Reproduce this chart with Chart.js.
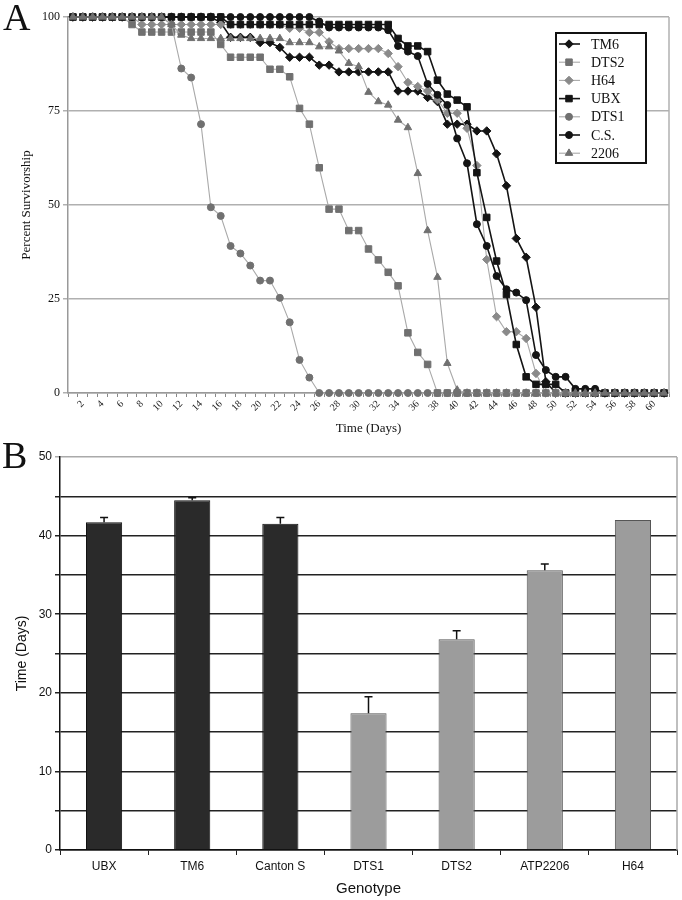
<!DOCTYPE html>
<html><head><meta charset="utf-8">
<script src="https://cdn.jsdelivr.net/npm/chart.js@4.4.1/dist/chart.umd.min.js"></script>
<style>
html,body{margin:0;padding:0;background:#fff;}
#wrap{position:relative;width:682px;height:900px;overflow:hidden;}
#ca{position:absolute;left:0;top:0;}
#cb{position:absolute;left:0;top:440px;}
.panel{position:absolute;font-family:"Liberation Serif","Times New Roman",serif;font-size:38px;line-height:1;color:#111;}
</style></head>
<body><div id="wrap">
<canvas id="ca" width="682" height="440"></canvas>
<canvas id="cb" width="682" height="460"></canvas>
<div class="panel" style="left:3px;top:-2px;">A</div>
<div class="panel" style="left:2px;top:436px;">B</div>
</div>
<script>
// ---------- Panel A data ----------
const days = ['1','2','3','4','5','6','7','8','9','10','11','12','13','14','15','16','17','18','19','20',
  '21','22','23','24','25','26','27','28','29','30','31','32','33','34','35','36','37','38','39','40',
  '41','42','43','44','45','46','47','48','49','50','51','52','53','54','55','56','57','58','59','60','61'];
const seriesNames = ['TM6','DTS2','H64','UBX','DTS1','C.S.','2206'];
const TM6 = [100,100,100,100,100,100,100,100,100,100,100,100,100,100,100,98.5,94.6,94.6,94.6,93.2,
  93.2,91.9,89.3,89.3,89.3,87.2,87.2,85.4,85.4,85.4,85.4,85.4,85.4,80.3,80.3,80.3,78.6,77.5,71.5,71.5,
  71.5,69.7,69.7,63.6,55.1,41.1,36.1,22.8,3.0,0,0,0,0,0,0,0,0,0,0,0,0];
const DTS2 = [100,100,100,100,100,100,98,96,96,96,96,96,96,96,96,92.7,89.3,89.3,89.3,89.3,
  86.1,86.1,84.1,75.7,71.5,59.9,48.9,48.9,43.2,43.2,38.3,35.4,32.1,28.5,16.0,10.8,7.6,0,0,0,
  0,0,0,0,0,0,0,0,0,0,0,0,0,0,0,0,0,0,0,0,0];
const H64 = [100,100,100,100,100,100,100,98,98,98,98,98,98,98,98,98,98,98,98,98,
  98,98,97,97,95.9,95.9,93.4,91.6,91.6,91.6,91.6,91.6,90.3,86.8,82.6,81.5,80.3,78.0,74.4,74.4,
  70.4,60.5,35.5,20.3,16.3,16.3,14.5,5.2,0,0,0,0,0,0,0,0,0,0,0,0,0];
const UBX = [100,100,100,100,100,100,100,100,100,100,100,100,100,100,100,100,98,98,98,98,
  98,98,98,98,98,98,98,98,98,98,98,98,98,94.3,92.3,92.3,90.8,83.2,79.5,77.9,
  76.1,58.6,46.7,35.1,26.2,12.9,4.3,2.3,2.3,2.3,0,0,0,0,0,0,0,0,0,0,0];
const DTS1 = [100,100,100,100,100,100,100,100,100,100,98,86.3,83.9,71.5,49.4,47.1,39.1,37.1,33.9,29.9,
  29.9,25.3,18.8,8.8,4.1,0,0,0,0,0,0,0,0,0,0,0,0,0,0,0,
  0,0,0,0,0,0,0,0,0,0,0,0,0,0,0,0,0,0,0,0,0];
const CS = [100,100,100,100,100,100,100,100,100,100,100,100,100,100,100,100,100,100,100,100,
  100,100,100,100,100,98.8,97.2,97.2,97.2,97.2,97.2,97.2,96.5,92.3,90.8,89.6,82.2,79.3,76.6,67.7,
  61.1,44.9,39.1,31.1,27.6,26.7,24.7,10.1,6.1,4.3,4.3,1.1,1.1,1.1,0,0,0,0,0,0,0];
const S2206 = [100,100,100,100,100,100,100,100,100,100,98,95.2,94.3,94.3,94.3,94.3,94.3,94.3,94.3,94.3,
  94.3,94.3,93.2,93.2,93.2,92.1,92.1,91.0,87.7,86.8,80.0,77.5,76.6,72.6,70.6,58.4,43.2,30.8,7.9,0.8,
  0,0,0,0,0,0,0,0,0,0,0,0,0,0,0,0,0,0,0,0,0];
const survivalTicks = [0,25,50,75,100];

// ---------- Panel B data ----------
const genotypes = ['UBX','TM6','Canton S','DTS1','DTS2','ATP2206','H64'];
const meanDays = [41.7,44.5,41.5,17.4,26.8,35.6,42.0];
const errPlus = [0.6,0.3,0.8,2.1,1.1,0.8,0];

// ---------- styles ----------
const SERIF = '"Liberation Serif","Times New Roman",serif';
const SANS = '"Liberation Sans",Arial,sans-serif';
const BLACK = '#141414', GREYM = '#707070', GREYL = '#a9a9a9';
const styleA = [
  {mark:BLACK, line:BLACK, lw:1.6, ps:'rectRot', r:4.2},
  {mark:GREYM, line:GREYL, lw:1.1, ps:'rect', r:4.6},
  {mark:'#8a8a8a', line:GREYL, lw:1.1, ps:'rectRot', r:4.2},
  {mark:BLACK, line:BLACK, lw:1.6, ps:'rect', r:4.6},
  {mark:GREYM, line:GREYL, lw:1.1, ps:'circle', r:3.5},
  {mark:BLACK, line:BLACK, lw:1.6, ps:'circle', r:3.5},
  {mark:GREYM, line:GREYL, lw:1.1, ps:'triangle', r:4.3}
];
const seriesData = [TM6, DTS2, H64, UBX, DTS1, CS, S2206];

const rightBorder = {
  id:'rightBorder',
  afterDraw(chart, args, opts){
    const a = chart.chartArea, ctx = chart.ctx;
    ctx.save(); ctx.strokeStyle = opts.color || '#aaa'; ctx.lineWidth = 1.5;
    ctx.beginPath(); ctx.moveTo(a.right, a.top); ctx.lineTo(a.right, a.bottom); ctx.stroke();
    ctx.restore();
  }
};

const boxLegend = {
  id:'boxLegend',
  afterDraw(chart){
    const ctx = chart.ctx;
    const x0 = 556, y0 = 33, w = 90, h = 130;
    ctx.save();
    ctx.fillStyle = '#fff'; ctx.fillRect(x0, y0, w, h);
    ctx.strokeStyle = '#111'; ctx.lineWidth = 2; ctx.strokeRect(x0, y0, w, h);
    ctx.font = '14px ' + SERIF; ctx.textBaseline = 'middle'; ctx.textAlign = 'left';
    chart.data.datasets.forEach((ds, i) => {
      const y = y0 + 11 + i * 18.2;
      ctx.strokeStyle = ds.borderColor; ctx.lineWidth = ds.borderWidth;
      ctx.beginPath(); ctx.moveTo(x0 + 3, y); ctx.lineTo(x0 + 24, y); ctx.stroke();
      ctx.fillStyle = ds.pointBackgroundColor; ctx.strokeStyle = ds.pointBorderColor; ctx.lineWidth = 1;
      Chart.helpers.drawPoint(ctx, {pointStyle: ds.pointStyle, radius: ds.pointRadius, rotation: 0, borderWidth: 1}, x0 + 13, y);
      ctx.fillStyle = '#111';
      ctx.fillText(ds.label, x0 + 35, y + 1);
    });
    ctx.restore();
  }
};

const datasetsA = seriesNames.map((name, i) => ({
  label: name,
  data: seriesData[i],
  borderColor: styleA[i].line,
  borderWidth: styleA[i].lw,
  pointStyle: styleA[i].ps,
  pointRadius: styleA[i].r,
  pointBackgroundColor: styleA[i].mark,
  pointBorderColor: styleA[i].mark,
  pointBorderWidth: 1,
  tension: 0,
  clip: false,
  order: seriesNames.length - i
}));

new Chart(document.getElementById('ca'), {
  type: 'line',
  data: { labels: days, datasets: datasetsA },
  options: {
    responsive: false, animation: false,
    layout: { padding: { left: 15, right: 13, top: 17, bottom: 0 } },
    plugins: { legend: { display: false }, tooltip: { enabled: false }, rightBorder: { color: '#b0b0b0' } },
    scales: {
      x: {
        type: 'category', offset: true,
        grid: { display: true, drawOnChartArea: false, offset: true, tickLength: 4, color: '#888', lineWidth: 1 },
        border: { color: '#999', width: 1.5 },
        ticks: { autoSkip: false, minRotation: 45, maxRotation: 45, padding: 1, color: '#222',
          font: { family: SERIF, size: 10 },
          callback: (v, i) => (i % 2 === 1 ? days[i] : '') },
        title: { display: true, text: 'Time (Days)', color: '#111', font: { family: SERIF, size: 13 }, padding: { top: 2, bottom: 4 } },
        afterFit: s => { s.height = 47; }
      },
      y: {
        min: 0, max: 100,
        afterBuildTicks: s => { s.ticks = survivalTicks.map(v => ({ value: v })); },
        grid: { color: '#b0b0b0', lineWidth: 1.5, tickLength: 5 },
        border: { color: '#999', width: 1.5 },
        ticks: { color: '#111', padding: 3, font: { family: SERIF, size: 12 } },
        title: { display: true, text: 'Percent Survivorship', color: '#111', font: { family: SERIF, size: 13 }, padding: 4 },
        afterFit: s => { s.width = 53; }
      }
    }
  },
  plugins: [rightBorder, boxLegend]
});

// ---------- Panel B ----------
const barFill = ['#2a2a2a','#2a2a2a','#2a2a2a','#9c9c9c','#9c9c9c','#9c9c9c','#9c9c9c'];
const barEdge = ['#111','#111','#111','#555','#555','#555','#555'];

const errorBars = {
  id: 'errorBars',
  afterDatasetsDraw(chart){
    const meta = chart.getDatasetMeta(0), ys = chart.scales.y, ctx = chart.ctx;
    ctx.save(); ctx.strokeStyle = '#111'; ctx.lineWidth = 1.5;
    meta.data.forEach((bar, i) => {
      if (!errPlus[i]) return;
      const yb = ys.getPixelForValue(meanDays[i]);
      const yt = ys.getPixelForValue(meanDays[i] + errPlus[i]);
      ctx.beginPath();
      ctx.moveTo(bar.x, yb); ctx.lineTo(bar.x, yt);
      ctx.moveTo(bar.x - 4, yt); ctx.lineTo(bar.x + 4, yt);
      ctx.stroke();
    });
    ctx.restore();
  }
};

new Chart(document.getElementById('cb'), {
  type: 'bar',
  data: { labels: genotypes, datasets: [{
    data: meanDays, backgroundColor: barFill, borderColor: barEdge, borderWidth: 1,
    barPercentage: 0.41, categoryPercentage: 1
  }]},
  options: {
    responsive: false, animation: false,
    layout: { padding: { left: 10, right: 5, top: 17, bottom: 0 } },
    plugins: { legend: { display: false }, tooltip: { enabled: false }, rightBorder: { color: '#aaa' } },
    scales: {
      x: {
        grid: { display: true, drawOnChartArea: false, offset: true, tickLength: 5, color: '#222', lineWidth: 1 },
        border: { color: '#111', width: 1.5 },
        ticks: { color: '#111', padding: 4, font: { family: SANS, size: 12 } },
        title: { display: true, text: 'Genotype', color: '#111', font: { family: SANS, size: 15 }, padding: { top: 2, bottom: 2 } },
        afterFit: s => { s.height = 50; }
      },
      y: {
        min: 0, max: 50,
        ticks: { stepSize: 5, color: '#111', padding: 3, font: { family: SANS, size: 12 },
          callback: v => (v % 10 === 0 ? v : '') },
        grid: { color: c => (c.tick && c.tick.value === 50 ? '#aaa' : '#222'), lineWidth: 1.5, tickLength: 5 },
        border: { color: '#111', width: 1.5 },
        title: { display: true, text: 'Time (Days)', color: '#111', font: { family: SANS, size: 14 }, padding: 4 },
        afterFit: s => { s.width = 50; }
      }
    }
  },
  plugins: [rightBorder, errorBars]
});
</script>
</body></html>
